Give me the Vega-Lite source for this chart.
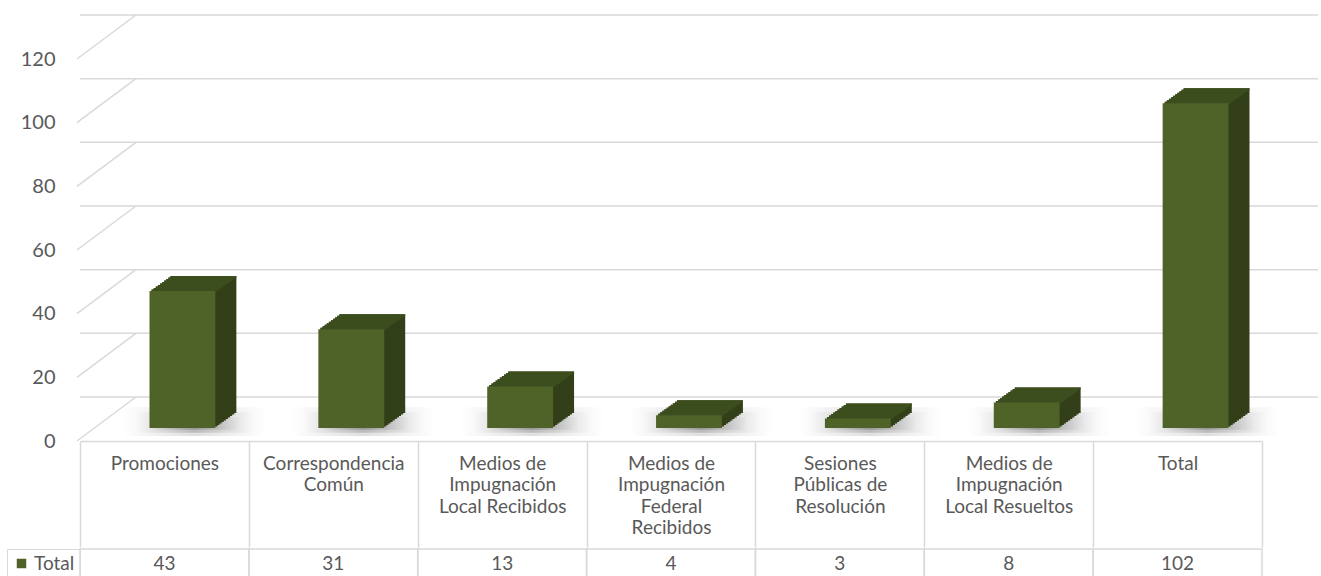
{
  "$schema": "https://vega.github.io/schema/vega-lite/v6.json",
  "padding": {"left": 6, "top": 14, "right": 0, "bottom": 0},
  "background": "white",
  "spacing": 0,
  "datasets": {
    "datos": [
      {"categoria": "Promociones", "total": 43, "serie": "Total"},
      {"categoria": "Correspondencia Común", "total": 31, "serie": "Total"},
      {"categoria": "Medios de Impugnación Local Recibidos", "total": 13, "serie": "Total"},
      {"categoria": "Medios de Impugnación Federal Recibidos", "total": 4, "serie": "Total"},
      {"categoria": "Sesiones Públicas de Resolución", "total": 3, "serie": "Total"},
      {"categoria": "Medios de Impugnación Local Resueltos", "total": 8, "serie": "Total"},
      {"categoria": "Total", "total": 102, "serie": "Total"}
    ],
    "grid": [{"v": 0}, {"v": 20}, {"v": 40}, {"v": 60}, {"v": 80}, {"v": 100}, {"v": 120}]
  },
  "resolve": {"scale": {"fill": "independent"}, "legend": {"fill": "independent"}},
  "vconcat": [
    {
      "width": 1182,
      "height": 382,
      "layer": [
        {"data": {"name": "grid"}, "mark": {"type": "rule", "color": "#d9d9d9", "strokeWidth": 1.5, "xOffset": 56, "x2Offset": 56, "yOffset": -44},
         "encoding": {"y": {"field": "v", "type": "quantitative", "title": null, "scale": {"domain": [0, 120]}}}},
        {"data": {"name": "grid"}, "mark": {"type": "rule", "color": "#d9d9d9", "strokeWidth": 1.5, "xOffset": -87.5, "x2Offset": -28.5, "y2Offset": -44},
         "encoding": {"x": {"datum": "Promociones", "type": "nominal", "scale": {"type": "band", "paddingInner": 0, "paddingOuter": 0}}, "x2": {"datum": "Promociones"}, "y": {"field": "v", "type": "quantitative", "title": null}, "y2": {"field": "v"}}},
        {"data": {"name": "datos"}, "mark": {"type": "bar", "width": {"band": 0.85}, "xOffset": 30, "x2Offset": 30, "yOffset": -5, "y2Offset": -5,
           "fill": {"gradient": "linear", "x1": 0, "y1": 0, "x2": 1, "y2": 0, "stops": [{"offset": 0, "color": "rgba(110,110,110,0)"}, {"offset": 0.5, "color": "rgba(110,110,110,0.22)"}, {"offset": 1, "color": "rgba(110,110,110,0)"}]}},
         "encoding": {"x": {"field": "categoria", "type": "nominal", "sort": null, "title": null}, "y": {"datum": 0, "type": "quantitative", "title": null}, "y2": {"datum": 9}}},
        {"data": {"name": "datos"}, "mark": {"type": "bar", "width": {"band": 0.7}, "xOffset": 30, "x2Offset": 30, "yOffset": -5, "y2Offset": -5,
           "fill": {"gradient": "linear", "x1": 0, "y1": 0, "x2": 1, "y2": 0, "stops": [{"offset": 0, "color": "rgba(100,100,100,0)"}, {"offset": 0.5, "color": "rgba(100,100,100,0.3)"}, {"offset": 1, "color": "rgba(100,100,100,0)"}]}},
         "encoding": {"x": {"field": "categoria", "type": "nominal", "sort": null, "title": null}, "y": {"datum": 1, "type": "quantitative", "title": null}, "y2": {"datum": 7.5}}},
        {"data": {"name": "datos"}, "mark": {"type": "bar", "width": {"band": 0.55}, "xOffset": 30, "x2Offset": 30, "yOffset": -5, "y2Offset": -5,
           "fill": {"gradient": "linear", "x1": 0, "y1": 0, "x2": 1, "y2": 0, "stops": [{"offset": 0, "color": "rgba(90,90,90,0)"}, {"offset": 0.5, "color": "rgba(90,90,90,0.35)"}, {"offset": 1, "color": "rgba(90,90,90,0)"}]}},
         "encoding": {"x": {"field": "categoria", "type": "nominal", "sort": null, "title": null}, "y": {"datum": 2, "type": "quantitative", "title": null}, "y2": {"datum": 6}}},
        {"data": {"name": "datos"}, "mark": {"type": "bar", "width": {"band": 0.39}, "color": "#323f19", "xOffset": 39, "x2Offset": 39, "yOffset": -28, "y2Offset": -28}, "encoding": {"x": {"field": "categoria", "type": "nominal", "sort": null, "title": null}, "y": {"field": "total", "type": "quantitative", "title": null}}},
        {"data": {"name": "datos"}, "mark": {"type": "bar", "width": {"band": 0.39}, "color": "#323f19", "xOffset": 36.9, "x2Offset": 36.9, "yOffset": -26.5, "y2Offset": -26.5}, "encoding": {"x": {"field": "categoria", "type": "nominal", "sort": null, "title": null}, "y": {"field": "total", "type": "quantitative", "title": null}}},
        {"data": {"name": "datos"}, "mark": {"type": "bar", "width": {"band": 0.39}, "color": "#323f19", "xOffset": 34.8, "x2Offset": 34.8, "yOffset": -25, "y2Offset": -25}, "encoding": {"x": {"field": "categoria", "type": "nominal", "sort": null, "title": null}, "y": {"field": "total", "type": "quantitative", "title": null}}},
        {"data": {"name": "datos"}, "mark": {"type": "bar", "width": {"band": 0.39}, "color": "#323f19", "xOffset": 32.7, "x2Offset": 32.7, "yOffset": -23.5, "y2Offset": -23.5}, "encoding": {"x": {"field": "categoria", "type": "nominal", "sort": null, "title": null}, "y": {"field": "total", "type": "quantitative", "title": null}}},
        {"data": {"name": "datos"}, "mark": {"type": "bar", "width": {"band": 0.39}, "color": "#323f19", "xOffset": 30.6, "x2Offset": 30.6, "yOffset": -22, "y2Offset": -22}, "encoding": {"x": {"field": "categoria", "type": "nominal", "sort": null, "title": null}, "y": {"field": "total", "type": "quantitative", "title": null}}},
        {"data": {"name": "datos"}, "mark": {"type": "bar", "width": {"band": 0.39}, "color": "#323f19", "xOffset": 28.5, "x2Offset": 28.5, "yOffset": -20.5, "y2Offset": -20.5}, "encoding": {"x": {"field": "categoria", "type": "nominal", "sort": null, "title": null}, "y": {"field": "total", "type": "quantitative", "title": null}}},
        {"data": {"name": "datos"}, "mark": {"type": "bar", "width": {"band": 0.39}, "color": "#323f19", "xOffset": 26.4, "x2Offset": 26.4, "yOffset": -19, "y2Offset": -19}, "encoding": {"x": {"field": "categoria", "type": "nominal", "sort": null, "title": null}, "y": {"field": "total", "type": "quantitative", "title": null}}},
        {"data": {"name": "datos"}, "mark": {"type": "bar", "width": {"band": 0.39}, "color": "#323f19", "xOffset": 24.3, "x2Offset": 24.3, "yOffset": -17.5, "y2Offset": -17.5}, "encoding": {"x": {"field": "categoria", "type": "nominal", "sort": null, "title": null}, "y": {"field": "total", "type": "quantitative", "title": null}}},
        {"data": {"name": "datos"}, "mark": {"type": "bar", "width": {"band": 0.39}, "color": "#323f19", "xOffset": 22.2, "x2Offset": 22.2, "yOffset": -16, "y2Offset": -16}, "encoding": {"x": {"field": "categoria", "type": "nominal", "sort": null, "title": null}, "y": {"field": "total", "type": "quantitative", "title": null}}},
        {"data": {"name": "datos"}, "mark": {"type": "bar", "width": {"band": 0.39}, "color": "#323f19", "xOffset": 20.1, "x2Offset": 20.1, "yOffset": -14.5, "y2Offset": -14.5}, "encoding": {"x": {"field": "categoria", "type": "nominal", "sort": null, "title": null}, "y": {"field": "total", "type": "quantitative", "title": null}}},
        {"data": {"name": "datos"}, "mark": {"type": "bar", "width": {"band": 0.39}, "color": "#3c4e1e", "xOffset": 39, "x2Offset": 39, "yOffset": -28, "y2Offset": -26}, "encoding": {"x": {"field": "categoria", "type": "nominal", "sort": null, "title": null}, "y": {"field": "total", "type": "quantitative", "title": null}, "y2": {"field": "total"}}},
        {"data": {"name": "datos"}, "mark": {"type": "bar", "width": {"band": 0.39}, "color": "#3c4e1e", "xOffset": 36.9, "x2Offset": 36.9, "yOffset": -26.5, "y2Offset": -24.5}, "encoding": {"x": {"field": "categoria", "type": "nominal", "sort": null, "title": null}, "y": {"field": "total", "type": "quantitative", "title": null}, "y2": {"field": "total"}}},
        {"data": {"name": "datos"}, "mark": {"type": "bar", "width": {"band": 0.39}, "color": "#3c4e1e", "xOffset": 34.8, "x2Offset": 34.8, "yOffset": -25, "y2Offset": -23}, "encoding": {"x": {"field": "categoria", "type": "nominal", "sort": null, "title": null}, "y": {"field": "total", "type": "quantitative", "title": null}, "y2": {"field": "total"}}},
        {"data": {"name": "datos"}, "mark": {"type": "bar", "width": {"band": 0.39}, "color": "#3c4e1e", "xOffset": 32.7, "x2Offset": 32.7, "yOffset": -23.5, "y2Offset": -21.5}, "encoding": {"x": {"field": "categoria", "type": "nominal", "sort": null, "title": null}, "y": {"field": "total", "type": "quantitative", "title": null}, "y2": {"field": "total"}}},
        {"data": {"name": "datos"}, "mark": {"type": "bar", "width": {"band": 0.39}, "color": "#3c4e1e", "xOffset": 30.6, "x2Offset": 30.6, "yOffset": -22, "y2Offset": -20}, "encoding": {"x": {"field": "categoria", "type": "nominal", "sort": null, "title": null}, "y": {"field": "total", "type": "quantitative", "title": null}, "y2": {"field": "total"}}},
        {"data": {"name": "datos"}, "mark": {"type": "bar", "width": {"band": 0.39}, "color": "#3c4e1e", "xOffset": 28.5, "x2Offset": 28.5, "yOffset": -20.5, "y2Offset": -18.5}, "encoding": {"x": {"field": "categoria", "type": "nominal", "sort": null, "title": null}, "y": {"field": "total", "type": "quantitative", "title": null}, "y2": {"field": "total"}}},
        {"data": {"name": "datos"}, "mark": {"type": "bar", "width": {"band": 0.39}, "color": "#3c4e1e", "xOffset": 26.4, "x2Offset": 26.4, "yOffset": -19, "y2Offset": -17}, "encoding": {"x": {"field": "categoria", "type": "nominal", "sort": null, "title": null}, "y": {"field": "total", "type": "quantitative", "title": null}, "y2": {"field": "total"}}},
        {"data": {"name": "datos"}, "mark": {"type": "bar", "width": {"band": 0.39}, "color": "#3c4e1e", "xOffset": 24.3, "x2Offset": 24.3, "yOffset": -17.5, "y2Offset": -15.5}, "encoding": {"x": {"field": "categoria", "type": "nominal", "sort": null, "title": null}, "y": {"field": "total", "type": "quantitative", "title": null}, "y2": {"field": "total"}}},
        {"data": {"name": "datos"}, "mark": {"type": "bar", "width": {"band": 0.39}, "color": "#3c4e1e", "xOffset": 22.2, "x2Offset": 22.2, "yOffset": -16, "y2Offset": -14}, "encoding": {"x": {"field": "categoria", "type": "nominal", "sort": null, "title": null}, "y": {"field": "total", "type": "quantitative", "title": null}, "y2": {"field": "total"}}},
        {"data": {"name": "datos"}, "mark": {"type": "bar", "width": {"band": 0.39}, "color": "#3c4e1e", "xOffset": 20.1, "x2Offset": 20.1, "yOffset": -14.5, "y2Offset": -12.5}, "encoding": {"x": {"field": "categoria", "type": "nominal", "sort": null, "title": null}, "y": {"field": "total", "type": "quantitative", "title": null}, "y2": {"field": "total"}}},
        {"data": {"name": "datos"}, "mark": {"type": "bar", "width": {"band": 0.39}, "color": "#4f6228", "xOffset": 18, "x2Offset": 18, "yOffset": -13, "y2Offset": -13}, "encoding": {"x": {"field": "categoria", "type": "nominal", "sort": null, "title": null, "scale": {"type": "band", "paddingInner": 0, "paddingOuter": 0}}, "y": {"field": "total", "type": "quantitative", "title": null}}}
      ]
    },
    {
      "width": 1182,
      "height": 29,
      "data": {"name": "datos"},
      "layer": [
        {"mark": {"type": "rect", "stroke": "#d9d9d9", "strokeWidth": 1.5, "fillOpacity": 0},
         "encoding": {
           "x": {"field": "categoria", "type": "nominal", "sort": null, "axis": null, "scale": {"type": "band", "paddingInner": 0, "paddingOuter": 0}},
           "fill": {"field": "serie", "type": "nominal", "scale": {"range": ["#4f6228"]},
             "legend": {"title": null, "orient": "left", "offset": 0, "strokeColor": "#d9d9d9", "padding": 5, "symbolType": "square", "symbolSize": 90, "symbolOpacity": 1, "symbolStrokeWidth": 0, "labelFontSize": 19, "labelColor": "#595959", "labelFont": "Lato", "labelOffset": 3}}
         }},
        {"mark": {"type": "text", "fontSize": 19, "color": "#595959", "font": "Lato"},
         "encoding": {
           "x": {"field": "categoria", "type": "nominal", "sort": null, "axis": null},
           "text": {"field": "total", "type": "quantitative"}
         }}
      ]
    }
  ],
  "config": {
    "font": "Lato",
    "view": {"stroke": null},
    "axisY": {"grid": false, "domain": false, "ticks": false, "labelFontSize": 20, "labelColor": "#595959", "labelPadding": 25, "tickCount": 6},
    "axisX": {"grid": false, "domainColor": "#d9d9d9", "domainWidth": 1.5, "tickColor": "#d9d9d9", "tickWidth": 1.5, "tickSize": 106, "tickBand": "extent", "labelAngle": 0, "labelFontSize": 19, "labelColor": "#595959", "labelLineHeight": 21.5, "labelPadding": -93, "labelBaseline": "top",
      "labelExpr": "datum.value == 'Correspondencia Común' ? ['Correspondencia', 'Común'] : datum.value == 'Medios de Impugnación Local Recibidos' ? ['Medios de', 'Impugnación', 'Local Recibidos'] : datum.value == 'Medios de Impugnación Federal Recibidos' ? ['Medios de', 'Impugnación', 'Federal', 'Recibidos'] : datum.value == 'Sesiones Públicas de Resolución' ? ['Sesiones', 'Públicas de', 'Resolución'] : datum.value == 'Medios de Impugnación Local Resueltos' ? ['Medios de', 'Impugnación', 'Local Resueltos'] : datum.label"}
  }
}
